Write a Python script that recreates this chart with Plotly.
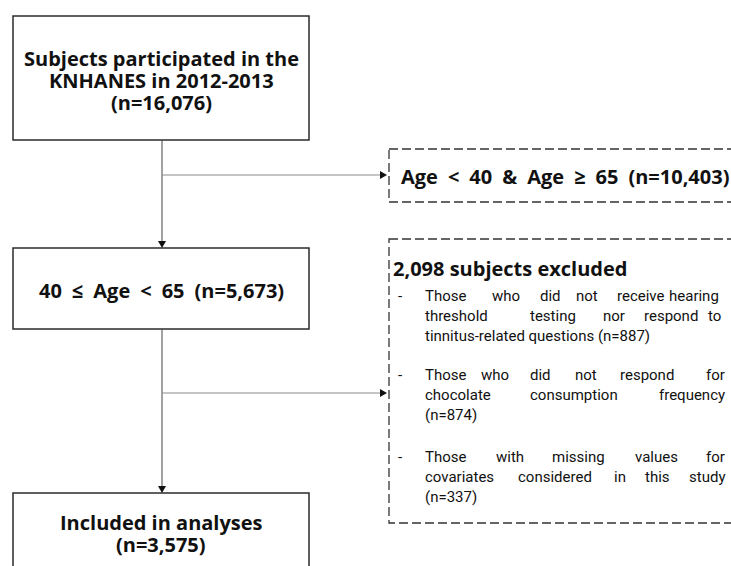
import plotly.graph_objects as go

# ---- data (flow counts and labels) ----
n_total = 16076
n_age_excl = 10403
n_age_incl = 5673
n_excl_total = 2098
n_excl_items = [887, 874, 337]
n_final = 3575

SP = "\u2002"  # wide space used around comparison symbols
title_lines = ["Subjects participated in the", "KNHANES in 2012-2013", f"(n={n_total:,})"]
age_incl_label = SP.join(["40", "≤", "Age", "<", "65", f"(n={n_age_incl:,})"])
age_excl_label = SP.join(["Age", "<", "40", "&", "Age", "≥", "65", f"(n={n_age_excl:,})"])
excl_header = f"{n_excl_total:,} subjects excluded"
final_lines = ["Included in analyses", f"(n={n_final:,})"]

# excluded-item text, split in lines of words (justified text)
item_lines = [
    [["Those", "who", "did", "not", "receive", "hearing"],
     ["threshold", "testing", "nor", "respond", "to"],
     [f"tinnitus-related questions (n={n_excl_items[0]})"]],
    [["Those", "who", "did", "not", "respond", "for"],
     ["chocolate", "consumption", "frequency"],
     [f"(n={n_excl_items[1]})"]],
    [["Those", "with", "missing", "values", "for"],
     ["covariates", "considered", "in", "this", "study"],
     [f"(n={n_excl_items[2]})"]],
]

# ---- layout geometry (pixels) ----
W, H = 731, 566
FONT = "Open Sans"
BODYFONT = "Roboto"
fig = go.Figure()
fig.update_layout(
    width=W, height=H, margin=dict(l=0, r=0, t=0, b=0),
    paper_bgcolor="white", plot_bgcolor="white", showlegend=False,
    xaxis=dict(range=[0, W], visible=False, fixedrange=True),
    yaxis=dict(range=[H, 0], visible=False, fixedrange=True),
)

shapes = []
BOX = dict(color="#2b2b2b", width=1.5)
DASH = dict(color="#333333", width=1.3, dash="9px,4px")
for (x0, y0, x1, y1) in [(13, 16, 309, 140), (13, 248, 309, 329), (13, 493, 309, 600)]:
    shapes.append(dict(type="rect", x0=x0, y0=y0, x1=x1, y1=y1, line=BOX, xref="x", yref="y"))
for (x0, y0, x1, y1) in [(389, 149, 770, 202), (389, 239, 770, 523)]:
    shapes.append(dict(type="rect", x0=x0, y0=y0, x1=x1, y1=y1, line=DASH, xref="x", yref="y"))
LN = dict(color="#444444", width=1)
shapes.append(dict(type="line", x0=162, y0=140, x1=162, y1=242, line=LN, xref="x", yref="y"))
shapes.append(dict(type="line", x0=162, y0=329, x1=162, y1=487, line=LN, xref="x", yref="y"))
shapes.append(dict(type="line", x0=162, y0=175, x1=382, y1=175, line=dict(color="#8a8a8a", width=1), xref="x", yref="y"))
shapes.append(dict(type="line", x0=162, y0=393, x1=382, y1=393, line=dict(color="#8a8a8a", width=1), xref="x", yref="y"))

def head_down(x, y):
    return dict(type="path", path=f"M {x-4} {y-7} L {x+4} {y-7} L {x} {y} Z",
                fillcolor="#111", line=dict(width=0), xref="x", yref="y")
def head_right(x, y):
    return dict(type="path", path=f"M {x-7} {y-4} L {x-7} {y+4} L {x} {y} Z",
                fillcolor="#111", line=dict(width=0), xref="x", yref="y")
shapes += [head_down(162, 248), head_down(162, 493), head_right(387, 175), head_right(387, 393)]
fig.update_layout(shapes=shapes)

ann = []
def txt(s, x, y, size, bold=False, anchor="center", family=FONT, color="#111"):
    ann.append(dict(text=f"<b>{s}</b>" if bold else s, x=x, y=y, xref="x", yref="y",
                    xanchor=anchor, yanchor="middle", showarrow=False,
                    font=dict(family=family, size=size, color=color)))

for s, y in zip(title_lines, [58, 80, 102]):
    txt(s, 161, y, 20, bold=True)
txt(age_incl_label, 161, 290, 20, bold=True)
for s, y in zip(final_lines, [522, 544]):
    txt(s, 161, y, 20, bold=True)
txt(age_excl_label, 399, 176, 20, bold=True, anchor="left")
txt(excl_header, 391, 268, 20, bold=True, anchor="left")

word_x = [
    [[423, 506, 550, 587, 641, 721], [423, 553, 614, 671, 723], [423]],
    [[423, 495, 540, 586, 647, 727], [423, 574, 727], [423]],
    [[423, 510, 578, 656, 727], [423, 555, 620, 657, 727], [423]],
]
line_y = [[296, 316, 336], [375, 395, 415], [457, 477, 497]]
BODY = 15
for item, xs, ys in zip(item_lines, word_x, line_y):
    txt("-", 400, ys[0], BODY, family=BODYFONT)
    for words, wx, y in zip(item, xs, ys):
        for i, (w, x) in enumerate(zip(words, wx)):
            a = "left" if i == 0 else ("right" if i == len(words) - 1 else "center")
            txt(w, x, y, BODY, anchor=a, family=BODYFONT)

fig.update_layout(annotations=ann)
fig.write_html(
    "out.html",
    config=dict(displayModeBar=False),
    post_script="document.body.style.margin='0';document.documentElement.style.overflow='hidden';",
)
